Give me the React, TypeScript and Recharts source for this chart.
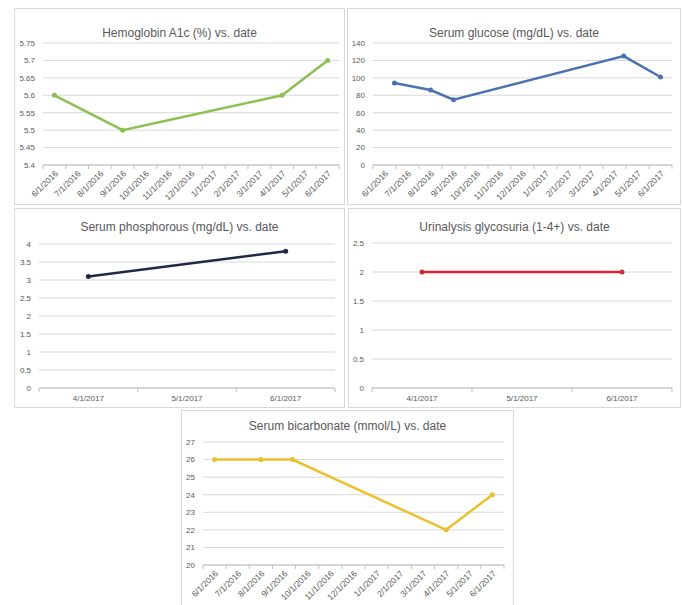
import { LineChart, Line, XAxis, YAxis, CartesianGrid } from "recharts";

const topMonths = [
  "6/1/2016", "7/1/2016", "8/1/2016", "9/1/2016", "10/1/2016", "11/1/2016", "12/1/2016",
  "1/1/2017", "2/1/2017", "3/1/2017", "4/1/2017", "5/1/2017", "6/1/2017",
];
const midMonths = ["4/1/2017", "5/1/2017", "6/1/2017"];

const hgbDates = ["6/1/2016", "9/1/2016", "4/1/2017", "6/1/2017"];
const hgbValues = [5.6, 5.5, 5.6, 5.7];
const hgbTicks = [5.4, 5.45, 5.5, 5.55, 5.6, 5.65, 5.7, 5.75];

const glucoseDates = ["6/14/2016", "8/1/2016", "9/1/2016", "4/13/2017", "6/1/2017"];
const glucoseValues = [94, 86, 75, 125, 101];
const glucoseTicks = [0, 20, 40, 60, 80, 100, 120, 140];

const phosDates = ["4/1/2017", "6/1/2017"];
const phosValues = [3.1, 3.8];
const phosTicks = [0, 0.5, 1, 1.5, 2, 2.5, 3, 3.5, 4];

const glycoDates = ["4/1/2017", "6/1/2017"];
const glycoValues = [2, 2];
const glycoTicks = [0, 0.5, 1, 1.5, 2, 2.5];

const bicarbDates = ["6/1/2016", "8/1/2016", "9/12/2016", "4/1/2017", "6/1/2017"];
const bicarbValues = [26, 26, 26, 22, 24];
const bicarbTicks = [20, 21, 22, 23, 24, 25, 26, 27];

const FONT = "'Liberation Sans', Arial, sans-serif";
const TEXT = "#595959";
const GRID = "#d9d9d9";
const AXIS = "#bfbfbf";

// month index counted from the first category, fractional by day
function monthPos(date: string, base: string) {
  const [m, d, y] = date.split("/").map(Number);
  const [bm, , by] = base.split("/").map(Number);
  const dim = new Date(y, m, 0).getDate();
  return (y - by) * 12 + (m - bm) + (d - 1) / dim;
}

const MonthTick = (props: any) => {
  const { x, y, payload, months, rotate } = props;
  const v = payload.value;
  if (!Number.isInteger(v)) {
    return <line x1={x} x2={x} y1={y} y2={y + 4} stroke={AXIS} />;
  }
  const label = months[v];
  if (rotate) {
    const ax = x + 2;
    const ay = y + 7;
    return (
      <text x={ax} y={ay} dy="0.35em" textAnchor="end" transform={`rotate(-45 ${ax} ${ay})`}
        fontSize={8.5} fill={TEXT} fontFamily={FONT}>
        {label}
      </text>
    );
  }
  return (
    <text x={x} y={y + 13} textAnchor="middle" fontSize={8} fill={TEXT} fontFamily={FONT}>
      {label}
    </text>
  );
};

type PanelProps = {
  left: number; top: number; width: number; height: number;
  title: string; titleTop: number; color: string;
  dates: string[]; values: number[]; months: string[]; yTicks: number[];
  plotLeft: number; plotRight: number; plotTop: number; plotBottom: number;
  rotate: boolean;
};

const Panel = (p: PanelProps) => {
  const w = p.width - 2;
  const h = p.height - 2;
  const rows = p.dates.map((d, i) => ({ x: monthPos(d, p.months[0]), y: p.values[i] }));
  const xTicks: number[] = [];
  for (let i = 0; i <= p.months.length; i++) {
    xTicks.push(i - 0.5);
    if (i < p.months.length) xTicks.push(i);
  }
  return (
    <div style={{
      position: "absolute", left: p.left, top: p.top, width: p.width, height: p.height,
      boxSizing: "border-box", border: "1px solid #d9d9d9", background: "#fff", overflow: "hidden",
    }}>
      <div style={{
        position: "absolute", left: 0, top: p.titleTop, width: "100%", textAlign: "center",
        fontFamily: FONT, fontSize: 12, color: TEXT, lineHeight: "14px",
      }}>{p.title}</div>
      <div style={{ position: "absolute", left: 0, top: 0 }}>
        <LineChart width={w} height={h} data={rows}
          margin={{ top: p.plotTop, right: w - p.plotRight, left: 0, bottom: 0 }}>
          <CartesianGrid vertical={false} stroke={GRID} />
          <XAxis dataKey="x" type="number" domain={[-0.5, p.months.length - 0.5]} ticks={xTicks}
            interval={0} height={h - p.plotBottom} stroke={AXIS} tickLine={false} tickSize={0} tickMargin={0}
            tick={(t: any) => <MonthTick {...t} months={p.months} rotate={p.rotate} />} />
          <YAxis type="number" domain={[p.yTicks[0], p.yTicks[p.yTicks.length - 1]]} ticks={p.yTicks}
            interval={0} width={p.plotLeft} axisLine={false} tickLine={false}
            tick={{ fontSize: 8, fill: TEXT, fontFamily: FONT }} />
          <Line dataKey="y" stroke={p.color} strokeWidth={2.5} isAnimationActive={false}
            dot={{ r: 2.5, fill: p.color, stroke: p.color, strokeWidth: 0 }} activeDot={false} />
        </LineChart>
      </div>
    </div>
  );
};

export default function App() {
  return (
    <div style={{ position: "absolute", left: 0, top: 0, width: 683, height: 605, background: "#fff", overflow: "hidden" }}>
      <Panel left={14} top={8} width={331} height={197} title="Hemoglobin A1c (%) vs. date" titleTop={17}
        color="#8cc152" dates={hgbDates} values={hgbValues} months={topMonths} yTicks={hgbTicks}
        plotLeft={28} plotRight={324} plotTop={34} plotBottom={156} rotate />
      <Panel left={347} top={8} width={334} height={197} title="Serum glucose (mg/dL) vs. date" titleTop={17}
        color="#4a72b0" dates={glucoseDates} values={glucoseValues} months={topMonths} yTicks={glucoseTicks}
        plotLeft={25} plotRight={324} plotTop={34} plotBottom={156} rotate />
      <Panel left={14} top={208} width={331} height={200} title="Serum phosphorous (mg/dL) vs. date" titleTop={11}
        color="#1f2847" dates={phosDates} values={phosValues} months={midMonths} yTicks={phosTicks}
        plotLeft={24} plotRight={320} plotTop={35} plotBottom={179} rotate={false} />
      <Panel left={348} top={208} width={333} height={200} title="Urinalysis glycosuria (1-4+) vs. date" titleTop={11}
        color="#d42a2e" dates={glycoDates} values={glycoValues} months={midMonths} yTicks={glycoTicks}
        plotLeft={23} plotRight={323} plotTop={34} plotBottom={179} rotate={false} />
      <Panel left={181} top={410} width={333} height={200} title="Serum bicarbonate (mmol/L) vs. date" titleTop={8}
        color="#ecc02a" dates={bicarbDates} values={bicarbValues} months={topMonths} yTicks={bicarbTicks}
        plotLeft={21} plotRight={322} plotTop={31} plotBottom={154} rotate />
    </div>
  );
}
